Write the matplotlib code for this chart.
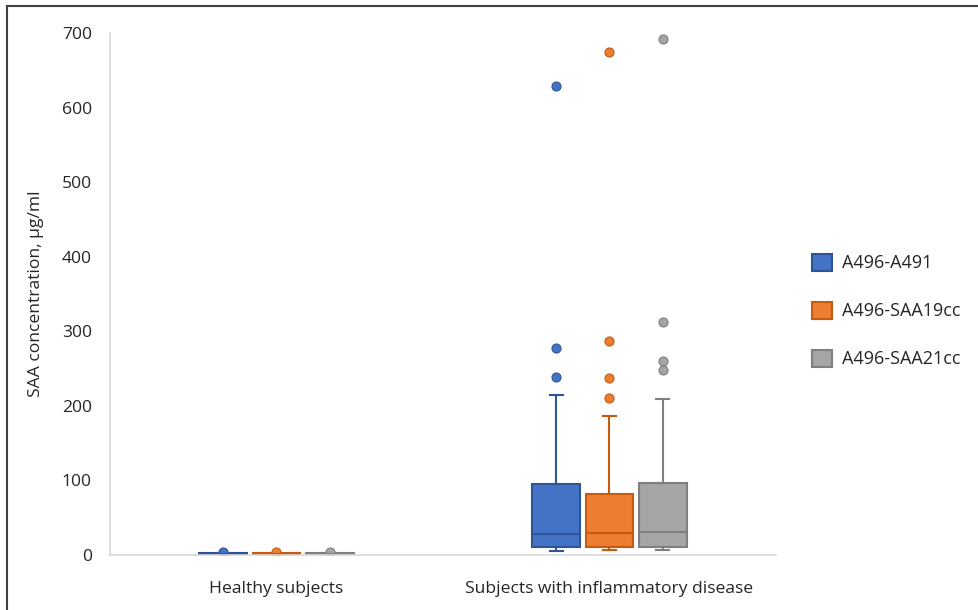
import matplotlib.pyplot as plt
from matplotlib.lines import Line2D
from matplotlib.patches import Patch

plt.rcParams['font.family'] = ['Open Sans', 'DejaVu Sans']

groups = ['Healthy subjects', 'Subjects with inflammatory disease']
series = ['A496-A491', 'A496-SAA19cc', 'A496-SAA21cc']
fills = ['#4472C4', '#ED7D31', '#A5A5A5']
edges = ['#2F5597', '#C55A11', '#7F7F7F']

# box statistics per series: [healthy, disease]
whislo = [[0.3, 5.4], [0.3, 6.3], [0.3, 6.3]]
q1 = [[0.6, 11], [0.6, 11], [0.6, 11]]
med = [[1.5, 28], [1.5, 29], [1.5, 30.5]]
q3 = [[2.5, 95], [2.5, 82], [2.5, 97]]
whishi = [[3.0, 215], [3.0, 187], [3.0, 209.5]]
fliers = [
    [[4.5], [238.6, 278, 628.6]],
    [[4.5], [211, 238, 287, 675]],
    [[4.5], [248, 260, 312, 692]],
]

txt = '#262626'

fig = plt.figure(figsize=(9.79, 6.10), dpi=100)
ax = fig.add_axes([110 / 979, 1 - 555 / 610, 666 / 979, 522 / 610])

offsets = [-0.16, 0.0, 0.16]
for s in range(len(series)):
    stats = []
    for g in range(len(groups)):
        stats.append({'whislo': whislo[s][g], 'q1': q1[s][g], 'med': med[s][g],
                      'q3': q3[s][g], 'whishi': whishi[s][g], 'fliers': fliers[s][g]})
    pos = [g + offsets[s] for g in range(len(groups))]
    ax.bxp(stats, positions=pos, widths=0.143, patch_artist=True, showfliers=True,
           capwidths=0.04,
           boxprops=dict(facecolor=fills[s], edgecolor=edges[s], linewidth=1.5),
           medianprops=dict(color=edges[s], linewidth=1.5),
           whiskerprops=dict(color=edges[s], linewidth=1.5),
           capprops=dict(color=edges[s], linewidth=1.5),
           flierprops=dict(marker='o', markerfacecolor=fills[s], markeredgecolor=edges[s],
                           markersize=6.5, markeredgewidth=0.8))

ax.set_xlim(-0.5, 1.5)
ax.set_ylim(0, 700)
ax.set_yticks(range(0, 701, 100))
ax.set_xticks(range(len(groups)))
ax.set_xticklabels(groups)
ax.tick_params(axis='both', length=0, labelsize=12.6, colors=txt)
ax.tick_params(axis='y', pad=13)
ax.tick_params(axis='x', pad=19)
for side in ['top', 'right']:
    ax.spines[side].set_visible(False)
ax.spines['left'].set_color('#D9D9D9')
ax.spines['bottom'].set_color('#D9D9D9')
ax.spines['left'].set_linewidth(1.2)
ax.spines['bottom'].set_linewidth(1.2)
ax.set_ylabel('SAA concentration, µg/ml', fontsize=12.6, color=txt, labelpad=13)

handles = [Patch(facecolor=fills[i], edgecolor=edges[i], linewidth=1.5) for i in range(3)]
fig.legend(handles, series, loc='center left', bbox_to_anchor=(796 / 979, 1 - 311 / 610),
           frameon=False, fontsize=13, handlelength=1.1, handleheight=1.1,
           labelspacing=1.62, handletextpad=0.55, labelcolor=txt)

# frame lines at top and left edge
fig.add_artist(Line2D([7 / 979, 1], [1 - 6 / 610, 1 - 6 / 610], color='#404040', linewidth=1.5))
fig.add_artist(Line2D([7 / 979, 7 / 979], [0, 1 - 6 / 610], color='#404040', linewidth=1.5))

fig.savefig('out.png', dpi=100)
